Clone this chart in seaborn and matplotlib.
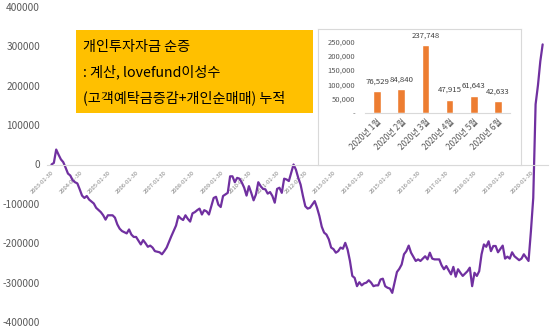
import matplotlib
matplotlib.use('Agg')
import matplotlib.pyplot as plt
import seaborn as sns
import pandas as pd
from matplotlib.patches import Rectangle

# ---------------- data ----------------
dates = [
    "2003-01", "2003-02", "2003-03", "2003-04", "2003-05", "2003-06", "2003-07", "2003-08", "2003-09", "2003-10", "2003-11", "2003-12",
    "2004-01", "2004-02", "2004-03", "2004-04", "2004-05", "2004-07", "2004-08", "2004-10", "2004-11", "2004-12",
    "2005-01", "2005-03", "2005-04", "2005-05", "2005-06", "2005-07", "2005-09", "2005-10", "2005-11", "2005-12",
    "2006-01", "2006-03", "2006-04", "2006-05", "2006-06", "2006-07", "2006-08", "2006-09", "2006-11", "2006-12",
    "2007-01", "2007-02", "2007-04", "2007-06", "2007-07", "2007-08", "2007-09", "2007-10", "2007-11", "2007-12",
    "2008-01", "2008-02", "2008-03", "2008-04", "2008-05", "2008-06", "2008-07", "2008-08", "2008-09", "2008-10", "2008-11", "2008-12",
    "2009-01", "2009-02", "2009-04", "2009-05", "2009-06", "2009-07", "2009-08", "2009-09", "2009-10", "2009-11", "2009-12",
    "2010-01", "2010-02", "2010-03", "2010-04", "2010-05", "2010-06", "2010-07", "2010-08", "2010-09", "2010-10", "2010-11", "2010-12",
    "2011-01", "2011-02", "2011-03", "2011-04", "2011-05", "2011-06", "2011-07", "2011-08", "2011-09", "2011-10", "2011-11", "2011-12",
    "2012-01", "2012-02", "2012-03", "2012-05", "2012-06", "2012-07", "2012-08", "2012-09", "2012-10", "2012-11", "2012-12",
    "2013-01", "2013-02", "2013-03", "2013-04", "2013-05", "2013-06", "2013-07", "2013-08", "2013-09", "2013-10", "2013-11", "2013-12",
    "2014-01", "2014-02", "2014-03", "2014-04", "2014-05", "2014-06", "2014-07", "2014-08", "2014-09", "2014-10", "2014-11", "2014-12",
    "2015-01", "2015-02", "2015-03", "2015-04", "2015-05", "2015-06", "2015-07", "2015-08", "2015-09", "2015-10", "2015-12",
    "2016-01", "2016-02", "2016-04", "2016-05", "2016-06", "2016-07", "2016-08", "2016-10", "2016-11", "2016-12",
    "2017-01", "2017-03", "2017-04", "2017-05", "2017-06", "2017-07", "2017-08", "2017-10", "2017-11", "2017-12",
    "2018-01", "2018-02", "2018-03", "2018-04", "2018-05", "2018-06", "2018-07", "2018-08", "2018-09", "2018-10", "2018-11",
    "2019-01", "2019-02", "2019-03", "2019-04", "2019-05", "2019-06", "2019-08", "2019-09", "2019-10", "2019-12",
    "2020-01", "2020-02", "2020-03", "2020-04", "2020-05", "2020-06",
]
values = [
    0, 4000, 38000, 25000, 13000, 6000, -8000, -23000, -28000, -40000, -45000, -48000,
    -63000, -79000, -85000, -80000, -89000, -99000, -110000, -121000, -129000, -140000,
    -129000, -129000, -135000, -152000, -163000, -169000, -175000, -165000, -178000, -184000,
    -184000, -203000, -192000, -200000, -209000, -206000, -211000, -220000, -223000, -228000,
    -220000, -211000, -182000, -155000, -131000, -137000, -141000, -129000, -138000, -145000,
    -124000, -121000, -116000, -112000, -127000, -116000, -119000, -127000, -106000, -85000, -82000, -102000,
    -108000, -80000, -72000, -30000, -30000, -45000, -34000, -36000, -46000, -59000, -79000,
    -55000, -72000, -91000, -76000, -45000, -55000, -62000, -63000, -74000, -70000, -80000, -97000,
    -62000, -59000, -72000, -36000, -38000, -42000, -21000, 0, -13000, -34000, -51000, -80000,
    -106000, -112000, -110000, -93000, -110000, -131000, -158000, -173000, -178000, -190000, -211000,
    -215000, -224000, -220000, -211000, -214000, -199000, -216000, -245000, -283000, -288000, -309000, -299000,
    -307000, -302000, -300000, -294000, -300000, -309000, -307000, -307000, -292000, -290000, -309000, -313000,
    -315000, -326000, -300000, -273000, -265000, -254000, -228000, -220000, -206000, -224000, -245000,
    -241000, -245000, -233000, -241000, -224000, -239000, -241000, -241000, -256000, -266000,
    -258000, -279000, -260000, -285000, -266000, -275000, -283000, -271000, -262000, -309000,
    -275000, -283000, -271000, -228000, -203000, -209000, -195000, -220000, -207000, -207000, -223000,
    -206000, -239000, -234000, -239000, -223000, -233000, -243000, -239000, -228000, -245000,
    -170000, -85000, 153000, 201000, 262000, 305000,
]
year_ticks = list(range(2003, 2021))
y_ticks = [-400000, -300000, -200000, -100000, 0, 100000, 200000, 300000, 400000]

bar_labels = ["2020년 1월", "2020년 2월", "2020년 3월", "2020년 4월", "2020년 5월", "2020년 6월"]
bar_values = [76529, 84840, 237748, 47915, 61643, 42633]
bar_ticks = [0, 50000, 100000, 150000, 200000, 250000]

title_lines = ["개인투자자금 순증", ": 계산, lovefund이성수", "(고객예탁금증감+개인순매매) 누적"]

# ---------------- style ----------------
sns.set_theme(style="white")
plt.rcParams['font.family'] = ['Noto Sans CJK KR', 'DejaVu Sans']

W, H = 550, 332
fig = plt.figure(figsize=(W / 100, H / 100), dpi=100)


def fr(x0, y0, x1, y1):
    return [x0 / W, 1 - y1 / H, (x1 - x0) / W, (y1 - y0) / H]


# ---------------- main chart ----------------
ax = fig.add_axes(fr(47, 7, 548, 322))
df = pd.DataFrame({"date": pd.to_datetime(dates), "value": values})
df["m"] = (df["date"].dt.year - 2003) * 12 + df["date"].dt.month - 1
sns.lineplot(data=df, x="m", y="value", ax=ax, color="#7030A0", linewidth=1.6)

# spine position first (it resets tick properties)
for s in ["top", "right", "left"]:
    ax.spines[s].set_visible(False)
ax.spines["bottom"].set_position(("data", 0))
ax.spines["bottom"].set_color("#d9d9d9")
ax.spines["bottom"].set_linewidth(0.8)

ax.set_xlim(-(51.5 - 47) / 2.35, (548 - 51.5) / 2.35)
ax.set_ylim(-400000, 400000)
ax.set_xlabel("")
ax.set_ylabel("")
ax.set_yticks(y_ticks)
ax.set_yticklabels([str(v) for v in y_ticks])
ax.set_xticks([(y - 2003) * 12 for y in year_ticks])
ax.set_xticklabels([f"{y}-01-30" for y in year_ticks], rotation=45, ha="right",
                   rotation_mode="anchor", fontsize=4.2, color="#7f7f7f")
ax.tick_params(axis="y", length=0, pad=5, labelsize=7.3, labelcolor="#595959")
ax.tick_params(axis="x", direction="out", length=2.5, width=0.6, color="#d9d9d9", pad=1.5)

# ---------------- yellow title box ----------------
fig.add_artist(Rectangle((76 / W, 1 - 113 / H), (313 - 76) / W, (113 - 30) / H,
                         transform=fig.transFigure, facecolor="#FFC000", edgecolor="none", zorder=3))
for i, line in enumerate(title_lines):
    fig.text(83 / W, 1 - (46.5 + 25.7 * i) / H, line, va="center", ha="left",
             fontsize=10.2, color="black", zorder=4)

# ---------------- inset frame ----------------
box = fig.add_axes(fr(318, 29, 520.7, 165))
box.set_facecolor("white")
box.set_xticks([])
box.set_yticks([])
for s in box.spines.values():
    s.set_color("#d9d9d9")
    s.set_linewidth(0.8)

# ---------------- inset bar chart ----------------
iax = fig.add_axes(fr(365, 41.3, 510, 113.3))
iax.set_facecolor("none")
sns.barplot(x=bar_labels, y=bar_values, color="#ED7D31", saturation=1, width=0.32,
            errorbar=None, ax=iax)
for s in ["top", "right", "left"]:
    iax.spines[s].set_visible(False)
iax.spines["bottom"].set_color("#d9d9d9")
iax.spines["bottom"].set_linewidth(0.8)
iax.set_xlim(-0.5, 5.5)
iax.set_ylim(0, 250000)
iax.set_yticks(bar_ticks)
iax.set_yticklabels(["-" if v == 0 else f"{v:,}" for v in bar_ticks])
iax.set_xticks(range(len(bar_labels)))
iax.set_xticklabels(bar_labels, rotation=45, ha="right", rotation_mode="anchor",
                    fontsize=6, color="#595959")
iax.set_xticks([i - 0.5 for i in range(len(bar_labels) + 1)], minor=True)
iax.tick_params(axis="x", which="major", length=0, pad=3)
iax.tick_params(axis="x", which="minor", length=3, width=0.6, color="#d9d9d9", direction="out")
iax.tick_params(axis="y", length=0, pad=7, labelsize=5.5, labelcolor="#595959")
for c in iax.containers:
    iax.bar_label(c, labels=[f"{v:,}" for v in bar_values], padding=4,
                  fontsize=5.6, color="#404040")

fig.savefig("out.png", dpi=100)
